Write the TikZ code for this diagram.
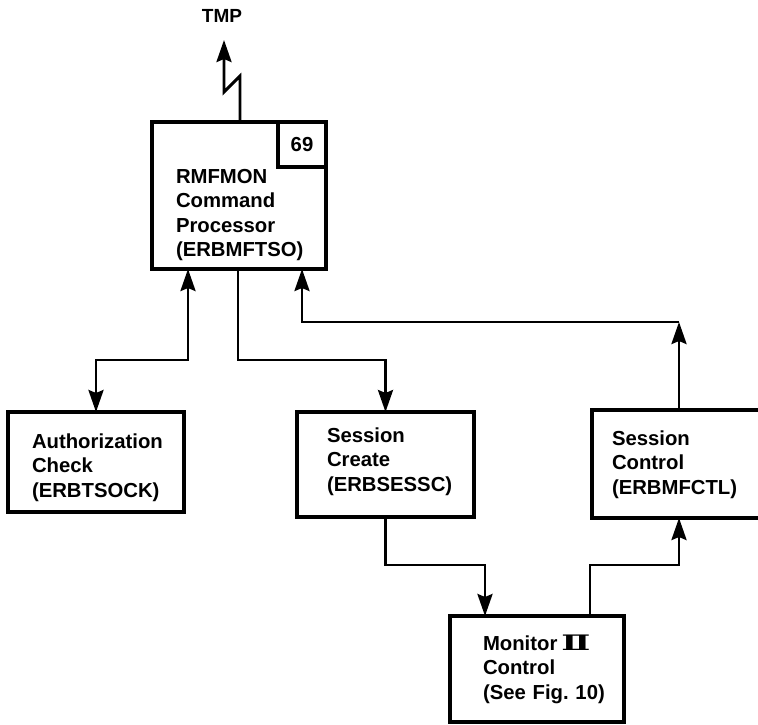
\documentclass[tikz,border=0pt]{standalone}
\usepackage{fontspec}
\setmainfont{Liberation Sans}
\newfontfamily\romnum{DejaVu Serif}
\usetikzlibrary{arrows.meta,positioning}

\begin{document}
\begin{tikzpicture}[x=1pt, y=-1pt,
    box/.style={draw, line width=3.6pt, align=left, inner ysep=0pt, outer sep=0pt,
      font=\bfseries\fontsize{20.3}{24.5}\selectfont},
    flow/.style={line width=2.9pt},
    >={Stealth[length=22pt, width=15pt, inset=3pt]}]
  % page frame
  \useasboundingbox (0,0) rectangle (758,724);

  % command processor with its figure number
  \node[box, anchor=north west, inner xsep=24pt, text width=126pt,
        text height=61pt, text depth=86pt] (mon) at (152,122)
        {RMFMON\\Command\\Processor\\(ERBMFTSO)};
  \node[box, anchor=north east, minimum width=48pt, minimum height=45pt,
        inner sep=0pt] (num) at (mon.north east) {69};

  % called routines
  \node[box, anchor=north west, inner xsep=24pt, text width=128pt,
        text height=36pt, text depth=64pt] (auth) at (8,412)
        {Authorization\\Check\\(ERBTSOCK)};
  \node[box, anchor=north west, inner xsep=30pt, text width=117pt,
        text height=30pt, text depth=75pt] (create) at (297,412)
        {Session\\Create\\(ERBSESSC)};
  \node[box, anchor=north west, inner xsep=20pt, text width=134pt,
        text height=35pt, text depth=73pt] (ctl) at (592,410)
        {Session\\Control\\(ERBMFCTL)};
  \node[box, anchor=north west, inner xsep=33pt, text width=108pt,
        text height=34pt, text depth=72pt] (mii) at (450,616)
        {Monitor\hspace{4pt}\scalebox{1.7}[1.05]{\romnum Ⅱ}\\Control\\(See~Fig.~10)};

  % terminal side
  \node[font=\bfseries\fontsize{19}{22}\selectfont] (tmp) at (222,16) {TMP};
  \coordinate (tmpin) at (224,40);
  \coordinate (turn) at (679,322);

  % connectors
  \draw[flow, ->] ([xshift=88pt]mon.north west) -- ++(0,-46) -- ++(-16,16) -- (tmpin);
  \draw[flow, <->] ([xshift=36pt]mon.south west) -- ++(0,91) -| (auth.north);
  \draw[flow, ->] ([xshift=86pt]mon.south west) -- ++(0,91) -| (create.north);
  \draw[flow, ->] (ctl.north) -- (turn);
  \draw[flow, ->] (turn) -| ([xshift=150pt]mon.south west);
  \draw[flow, ->] (create.south) -- ++(0,48) -| ([xshift=35pt]mii.north west);
  \draw[flow, ->] ([xshift=140pt]mii.north west) -- ++(0,-51) -| (ctl.south);
\end{tikzpicture}
\end{document}
